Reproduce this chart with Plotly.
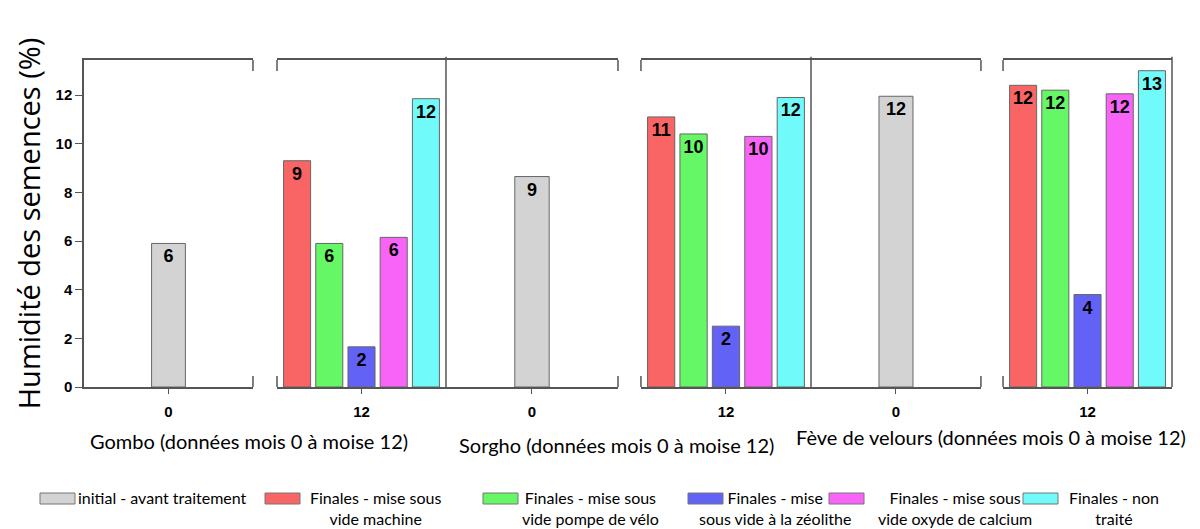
import plotly.graph_objects as go

# ---------------- data ----------------
months = ['0', '12']
crop_labels = ['Gombo (données mois 0 à moise 12)',
               'Sorgho (données mois 0 à moise 12)',
               'Fève de velours (données mois 0 à moise 12)']

initial_name = 'initial - avant traitement'
initial_vals = [5.9, 8.65, 11.95]
initial_text = ['6', '9', '12']

series_names = ['Finales - mise sous<br>vide machine',
                'Finales - mise sous<br>vide pompe de vélo',
                'Finales - mise<br>sous vide à la zéolithe',
                'Finales - mise sous<br>vide oxyde de calcium',
                'Finales - non<br>traité']
machine_vals = [9.3, 11.1, 12.4]
velo_vals = [5.9, 10.4, 12.2]
zeolithe_vals = [1.65, 2.5, 3.8]
oxyde_vals = [6.15, 10.3, 12.05]
non_traite_vals = [11.85, 11.9, 13.0]
machine_text = ['9', '11', '12']
velo_text = ['6', '10', '12']
zeolithe_text = ['2', '2', '4']
oxyde_text = ['6', '10', '12']
non_traite_text = ['12', '12', '13']

# ---------------- styles ----------------
W, H = 1200, 529
ML, MR, MT, MB = 84, 28, 60, 142
PW, PH = W - ML - MR, H - MT - MB

initial_color = '#d3d3d3'
series_colors = ['#f96464', '#66f766', '#6262f7', '#f864f8', '#70fafa']
edge = '#666666'
axis_col = '#555555'
LABEL_FONT = 'Lato, Open Sans, sans-serif'
BOLD = 'Liberation Sans, Arial, sans-serif'

domains = [(0.0, 0.1553), (0.1774, 0.3327), (0.3327, 0.4908),
           (0.5119, 0.6682), (0.6682, 0.8244), (0.8447, 1.0)]
YMAX = 13.44


def px_x(p):
    return (p - ML) / PW


def px_y(p):
    return (H - MB - p) / PH


fig = go.Figure()

series_vals = [machine_vals, velo_vals, zeolithe_vals, oxyde_vals, non_traite_vals]
series_text = [machine_text, velo_text, zeolithe_text, oxyde_text, non_traite_text]

bar_text_font = dict(family=BOLD, size=18, color='black', weight='bold')

for g in range(3):
    xa0 = 'x' if g == 0 else f'x{2 * g + 1}'
    xa12 = f'x{2 * g + 2}'
    fig.add_trace(go.Bar(
        x=[months[0]], y=[initial_vals[g]], text=[initial_text[g]],
        name=initial_name, showlegend=False,
        marker=dict(color=initial_color, line=dict(color=edge, width=1)),
        width=0.2, textposition='inside', insidetextanchor='end',
        texttemplate='%{text}', textfont=bar_text_font, constraintext='none',
        xaxis=xa0, yaxis='y'))
    for s in range(5):
        fig.add_trace(go.Bar(
            x=[months[1]], y=[series_vals[s][g]], text=[series_text[s][g]],
            name=series_names[s].replace('<br>', ' '), showlegend=False,
            marker=dict(color=series_colors[s], line=dict(color=edge, width=1)),
            textposition='inside', insidetextanchor='end',
            texttemplate='%{text}', textfont=bar_text_font, constraintext='none',
            xaxis=xa12, yaxis='y'))

layout = dict(
    width=W, height=H,
    margin=dict(l=ML, r=MR, t=MT, b=MB, autoexpand=False),
    paper_bgcolor='white', plot_bgcolor='white',
    barmode='group', bargap=0.047, bargroupgap=0.16,
    showlegend=False,
    yaxis=dict(range=[0, YMAX], tickvals=[0, 2, 4, 6, 8, 10, 12], ticks='outside',
               ticklen=7, tickcolor=axis_col, showline=True, linecolor=axis_col,
               linewidth=1.5, showgrid=False, zeroline=False, anchor='x',
               tickfont=dict(family=BOLD, size=15, color='black', weight='bold'),
               title=dict(text='Humidité des semences (%)', standoff=6,
                          font=dict(family='Open Sans, sans-serif', size=29, color='black'))),
)
for i, dm in enumerate(domains):
    key = 'xaxis' if i == 0 else f'xaxis{i + 1}'
    layout[key] = dict(domain=list(dm), anchor='y', type='category',
                       range=[-0.5, 0.5], showline=True, mirror=True,
                       linecolor=axis_col, linewidth=1.5, ticks='outside',
                       ticklen=5, tickcolor=axis_col, showgrid=False,
                       ticklabelstandoff=5,
                       tickfont=dict(family=BOLD, size=15, color='black', weight='bold'))
fig.update_layout(**layout)

# axis-break marks and panel separators
shapes = []
for xb in [domains[0][1], domains[1][0], domains[2][1], domains[3][0], domains[4][1], domains[5][0]]:
    for yb in [0, YMAX]:
        shapes.append(dict(type='line', xref='paper', yref='y', ysizemode='pixel',
                           yanchor=yb, x0=xb, x1=xb, y0=-11, y1=11,
                           line=dict(color=axis_col, width=1.5)))
for xs in [domains[1][1], domains[3][1], domains[5][1]]:
    shapes.append(dict(type='line', xref='paper', yref='paper', x0=xs, x1=xs,
                       y0=0, y1=1.01, line=dict(color=axis_col, width=1.5)))

# legend (swatch + centred two-line labels, as in the reference)
legend_names = [initial_name] + series_names
legend_colors = [initial_color] + series_colors
swatch_left = [40, 265, 483, 688, 829, 1023]
text_center = [None, 375, 590, 775, 955, 1114]
SW_W, SW_T, SW_B = 35, 493, 504
for k in range(6):
    shapes.append(dict(type='rect', xref='paper', yref='paper',
                       x0=px_x(swatch_left[k]), x1=px_x(swatch_left[k] + SW_W),
                       y0=px_y(SW_B), y1=px_y(SW_T), fillcolor=legend_colors[k],
                       line=dict(color='#777777', width=1)))
fig.update_layout(shapes=shapes)

for k in range(6):
    if text_center[k] is None:
        xx, xa = px_x(swatch_left[k] + SW_W + 1), 'left'
    else:
        xx, xa = px_x(text_center[k]), 'center'
    fig.add_annotation(text=legend_names[k], xref='paper', yref='paper', x=xx,
                       y=px_y(486), xanchor=xa, yanchor='top', align='center',
                       showarrow=False,
                       font=dict(family=LABEL_FONT, size=16, color='black'))

ann_x = [249, 616, 991]
ann_y = [441, 445, 437]
for g in range(3):
    fig.add_annotation(text=crop_labels[g], xref='paper', yref='paper', x=px_x(ann_x[g]),
                       y=px_y(ann_y[g]), xanchor='center', yanchor='middle', showarrow=False,
                       font=dict(family=LABEL_FONT, size=20, color='black'))

fig.write_html('out.html')
